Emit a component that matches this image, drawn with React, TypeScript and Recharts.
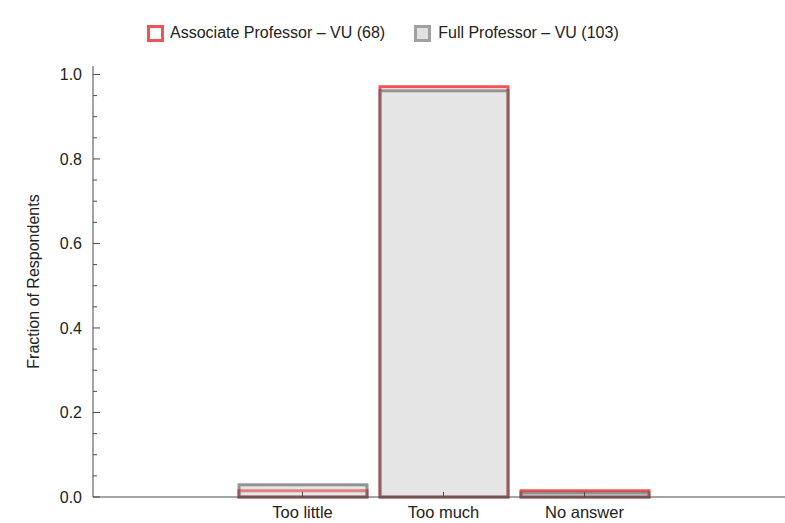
import React from 'react';
import { BarChart, Bar, XAxis, YAxis } from 'recharts';

const categories = ['Too little', 'Too much', 'No answer'];
const associateVU = [0.0147, 0.9706, 0.0147];
const fullVU = [0.0291, 0.9612, 0.0097];
const yTicks = [0, 0.05, 0.1, 0.15, 0.2, 0.25, 0.3, 0.35, 0.4, 0.45, 0.5, 0.55, 0.6, 0.65, 0.7, 0.75, 0.8, 0.85, 0.9, 0.95, 1.0];

const data = categories.map((c, i) => ({ name: c, associate: associateVU[i], full: fullVU[i] }));

const FONT = '"Liberation Sans", Arial, sans-serif';
const RED = '#f25355';
const AXIS = '#4a4a4a';

function YTick(props: any) {
  const { x, y, payload } = props;
  const v = payload.value as number;
  const major = Math.round(v * 100) % 20 === 0;
  return (
    <g>
      <line x1={x} y1={y} x2={x + (major ? 7 : 4)} y2={y} stroke={AXIS} strokeWidth={1} />
      {major && (
        <text x={x - 11} y={y} dy={6} textAnchor="end" fontSize={16} fill="#222" fontFamily={FONT}>
          {v.toFixed(1)}
        </text>
      )}
    </g>
  );
}

function XTick(props: any) {
  const { x, y, payload } = props;
  return (
    <g>
      <line x1={x} y1={y} x2={x} y2={y - 5} stroke={AXIS} strokeWidth={1} />
      <text x={x} y={y + 21} textAnchor="middle" fontSize={16.5} fill="#222" fontFamily={FONT}>
        {payload.value}
      </text>
    </g>
  );
}

export default function App() {
  return (
    <div style={{ position: 'absolute', left: 0, top: 0, width: 785, height: 523, background: '#fff', fontFamily: FONT }}>
      {/* legend */}
      <div style={{ position: 'absolute', top: 24, left: 147, display: 'flex', alignItems: 'center', fontSize: 16, color: '#222', lineHeight: '18px' }}>
        <span style={{ width: 11, height: 11, border: `3px solid ${RED}`, background: '#fff', display: 'inline-block' }} />
        <span style={{ marginLeft: 6 }}>Associate Professor – VU (68)</span>
        <span style={{ width: 11, height: 11, border: '3px solid #a0a0a0', background: '#e2e2e2', display: 'inline-block', marginLeft: 29 }} />
        <span style={{ marginLeft: 7 }}>Full Professor – VU (103)</span>
      </div>
      <BarChart
        width={785}
        height={523}
        data={data}
        margin={{ top: 66, right: 0, left: 0, bottom: 0 }}
        barSize={128}
        barGap={-128}
      >
        <XAxis
          dataKey="name"
          height={26}
          padding={{ left: 139, right: 130 }}
          stroke={AXIS}
          tickLine={false}
          tickSize={0}
          tickMargin={0}
          tick={<XTick />}
          interval={0}
        />
        <YAxis
          width={93}
          domain={[0, 1.02]}
          ticks={yTicks}
          interval={0}
          stroke={AXIS}
          tickLine={false}
          tickSize={0}
          tickMargin={0}
          tick={<YTick />}
          label={{ value: 'Fraction of Respondents', angle: -90, position: 'insideLeft', offset: 33, style: { fontSize: 16, fill: '#222', fontFamily: FONT, textAnchor: 'middle' } }}
        />
        <Bar dataKey="associate" fill="none" stroke={RED} strokeWidth={3} isAnimationActive={false} />
        <Bar dataKey="full" fill="#c0c0c0" fillOpacity={0.42} stroke="#555555" strokeOpacity={0.6} strokeWidth={3} isAnimationActive={false} />
      </BarChart>
    </div>
  );
}
